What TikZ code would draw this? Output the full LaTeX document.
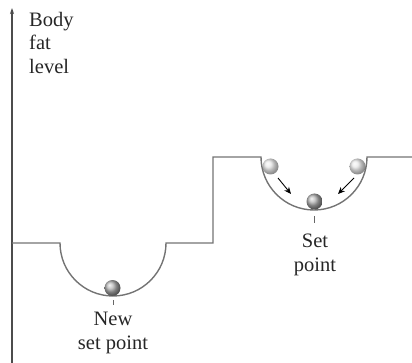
\documentclass[tikz,border=0pt]{standalone}
\usepackage{fontspec}
\setmainfont{Liberation Serif}
\usetikzlibrary{arrows.meta,positioning}
\tikzset{
  curve/.style={draw=black!55, line width=1.4pt},
  ball/.style={circle, minimum size=16pt, inner sep=0pt, shading=ball, ball color=#1},
  caption/.style={font=\fontsize{20.5}{23.5}\selectfont, align=center, text=black!85, inner sep=0pt},
  roll/.style={-{Stealth[length=7pt,width=6pt]}, line width=0.9pt, black}
}
\begin{document}
\begin{tikzpicture}[x=1pt,y=-1pt]
\useasboundingbox (0,0) rectangle (412,363);
\draw[draw=black!70, line width=1.2pt, -{Stealth[length=6pt,width=4pt]}] (12,363) -- (12,8);
\node[caption, align=left, anchor=north west] (axislabel) at (29,12) {Body\\fat\\level};

% body fat profile
\draw[curve] (12,243) -- (60,243) arc[start angle=180, end angle=0, radius=53]
  -- (213,243) -- (213,157) -- (261,157) arc[start angle=180, end angle=0, radius=53]
  -- (412,157);

% balls
\node[ball=black!28] (newball) at (112.5,288) {};
\node[ball=black!28] (setball) at (314.5,201.5) {};
\node[ball=black!12, opacity=0.75] (leftball) at (270.5,166.5) {};
\node[ball=black!12, opacity=0.75] (rightball) at (357.5,166.5) {};

\coordinate (la) at (278,178);
\coordinate (lb) at (291,194);
\coordinate (ra) at (354,178);
\coordinate (rb) at (338,194);
\draw[roll] (la) -- (lb);
\draw[roll] (ra) -- (rb);

% ticks and captions
\draw[black!60, line width=0.6pt] (113,300) -- (113,305);
\draw[black!60, line width=0.6pt] (314,216) -- (314,223);
\node[caption, anchor=north] (newlabel) at (113,312) {New\\set point};
\node[caption, anchor=north] (setlabel) at (315,234) {Set\\point};
\end{tikzpicture}
\end{document}
